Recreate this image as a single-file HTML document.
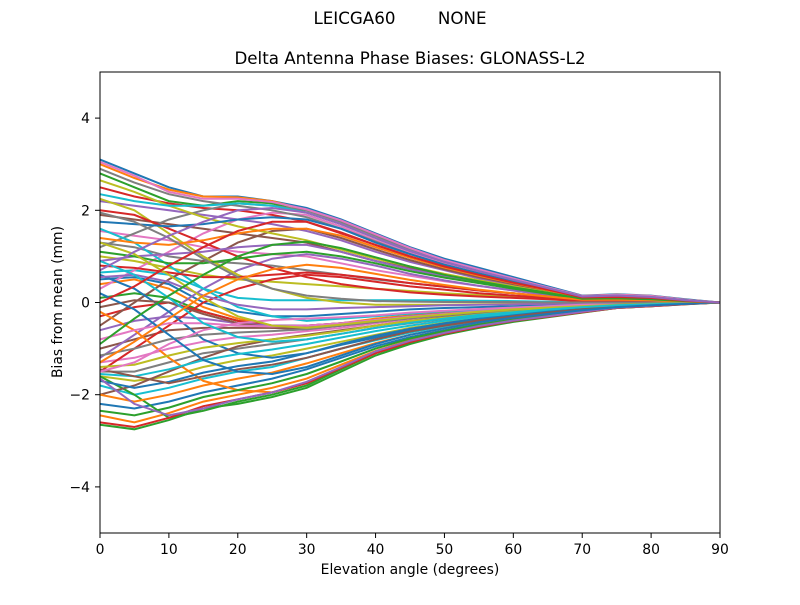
<!DOCTYPE html>
<html><head><meta charset="utf-8"><style>
body{margin:0;background:#fff;}
svg text{font-family:"DejaVu Sans","Liberation Sans",sans-serif;fill:#000;}
</style></head><body>
<svg id="chart" width="800" height="600">
<rect width="800" height="600" fill="#fff"/>
<text x="400" y="24" font-size="16.7" text-anchor="middle" xml:space="preserve">LEICGA60        NONE</text>
<text x="410" y="64" font-size="16.7" text-anchor="middle">Delta Antenna Phase Biases: GLONASS-L2</text>
<g id="lines"></g>
<rect x="100" y="72" width="620" height="461" fill="none" stroke="#000" stroke-width="1"/>
<g id="axes"></g>
<text x="410" y="574" font-size="13.9" text-anchor="middle">Elevation angle (degrees)</text>
<text transform="translate(62,302) rotate(-90)" font-size="13.9" text-anchor="middle">Bias from mean (mm)</text>
</svg>
<script>
const elevations=[0,5,10,15,20,25,30,35,40,45,50,55,60,65,70,75,80,85,90];
const xTicks=[0,10,20,30,40,50,60,70,80,90];
const yTicks=[-4,-2,0,2,4];
const yTickLabels=["\u22124","\u22122","0","2","4"];
const series=[
[3.1,2.8,2.5,2.3,2.3,2.2,2.05,1.8,1.5,1.2,0.95,0.75,0.55,0.35,0.15,0.18,0.15,0.07,0],
[3.0,2.7,2.45,2.3,2.28,2.2,2.0,1.75,1.45,1.15,0.9,0.7,0.5,0.32,0.14,0.17,0.14,0.06,0],
[2.8,2.5,2.2,2.1,2.2,2.15,1.95,1.7,1.4,1.1,0.85,0.65,0.48,0.3,0.12,0.15,0.12,0.05,0],
[2.5,2.3,2.15,2.05,2.0,1.9,1.75,1.5,1.25,1.0,0.78,0.6,0.42,0.27,0.1,0.12,0.1,0.04,0],
[2.2,2.1,2.0,1.9,1.8,1.7,1.55,1.35,1.1,0.88,0.7,0.52,0.38,0.24,0.08,0.1,0.08,0.03,0],
[1.9,1.8,1.7,1.6,1.5,1.4,1.3,1.1,0.9,0.75,0.6,0.45,0.32,0.2,0.06,0.08,0.06,0.02,0],
[1.55,1.45,1.35,1.2,1.1,1.05,1.0,0.85,0.7,0.58,0.46,0.36,0.26,0.16,0.05,0.06,0.05,0.02,0],
[1.3,1.2,1.0,0.9,0.85,0.8,0.7,0.6,0.5,0.42,0.34,0.26,0.2,0.12,0.04,0.05,0.04,0.01,0],
[1.0,0.9,0.75,0.6,0.5,0.45,0.4,0.35,0.3,0.25,0.2,0.16,0.12,0.08,0.02,0.03,0.02,0.01,0],
[0.65,0.7,0.6,0.3,0.1,0.05,0.05,0.05,0.05,0.05,0.05,0.04,0.03,0.02,0,0.01,0.01,0,0],
[0.5,0.55,0.4,0.0,-0.2,-0.3,-0.3,-0.25,-0.2,-0.15,-0.12,-0.1,-0.08,-0.06,-0.04,-0.02,-0.02,-0.01,0],
[0.4,0.5,0.3,-0.1,-0.35,-0.5,-0.55,-0.45,-0.35,-0.28,-0.22,-0.18,-0.14,-0.1,-0.07,-0.04,-0.03,-0.01,0],
[0.1,0.2,0.1,-0.2,-0.4,-0.5,-0.55,-0.5,-0.4,-0.32,-0.26,-0.2,-0.15,-0.11,-0.08,-0.05,-0.03,-0.01,0],
[-0.3,-0.1,0.0,-0.2,-0.4,-0.5,-0.5,-0.45,-0.38,-0.3,-0.24,-0.18,-0.14,-0.1,-0.07,-0.04,-0.03,-0.01,0],
[-0.6,-0.4,-0.3,-0.35,-0.45,-0.5,-0.5,-0.45,-0.38,-0.3,-0.24,-0.18,-0.14,-0.1,-0.07,-0.04,-0.03,-0.01,0],
[-1.0,-0.8,-0.6,-0.55,-0.55,-0.55,-0.5,-0.45,-0.4,-0.32,-0.26,-0.2,-0.15,-0.11,-0.08,-0.05,-0.03,-0.01,0],
[-1.3,-1.2,-1.0,-0.85,-0.75,-0.7,-0.62,-0.55,-0.45,-0.36,-0.3,-0.23,-0.18,-0.13,-0.09,-0.06,-0.04,-0.02,0],
[-1.5,-1.5,-1.3,-1.1,-1.0,-0.9,-0.8,-0.68,-0.55,-0.45,-0.36,-0.28,-0.21,-0.15,-0.1,-0.07,-0.05,-0.02,0],
[-1.6,-1.7,-1.6,-1.4,-1.25,-1.15,-1.0,-0.85,-0.7,-0.55,-0.44,-0.34,-0.26,-0.19,-0.13,-0.08,-0.05,-0.02,0],
[-1.8,-2.0,-1.85,-1.65,-1.5,-1.4,-1.2,-1.0,-0.82,-0.65,-0.52,-0.4,-0.3,-0.22,-0.15,-0.09,-0.06,-0.03,0],
[-2.2,-2.3,-2.15,-1.95,-1.8,-1.65,-1.45,-1.2,-0.95,-0.75,-0.6,-0.46,-0.35,-0.26,-0.18,-0.1,-0.07,-0.03,0],
[-2.45,-2.6,-2.4,-2.15,-2.0,-1.85,-1.65,-1.35,-1.05,-0.82,-0.65,-0.5,-0.38,-0.29,-0.2,-0.11,-0.07,-0.03,0],
[-2.65,-2.75,-2.55,-2.3,-2.2,-2.05,-1.85,-1.5,-1.15,-0.9,-0.7,-0.55,-0.42,-0.32,-0.22,-0.12,-0.08,-0.04,0],
[-1.5,-1.0,-0.5,0.0,0.3,0.5,0.6,0.55,0.45,0.35,0.28,0.2,0.15,0.1,0.05,0.05,0.04,0.02,0],
[-1.2,-0.7,-0.2,0.3,0.7,0.95,1.05,0.95,0.8,0.62,0.48,0.36,0.26,0.17,0.07,0.08,0.06,0.02,0],
[-0.5,0.0,0.5,0.9,1.3,1.55,1.6,1.4,1.15,0.92,0.72,0.55,0.4,0.26,0.1,0.11,0.09,0.04,0],
[0.3,0.7,1.1,1.5,1.8,1.95,1.9,1.65,1.35,1.08,0.85,0.65,0.47,0.3,0.12,0.14,0.11,0.05,0],
[1.2,1.5,1.8,2.0,2.15,2.1,2.0,1.75,1.45,1.15,0.9,0.7,0.5,0.32,0.13,0.16,0.13,0.06,0],
[2.25,2.0,1.5,1.0,0.6,0.3,0.1,0.0,-0.05,-0.05,-0.05,-0.04,-0.03,-0.02,-0.02,-0.01,-0.01,0,0],
[1.6,1.3,0.8,0.3,-0.1,-0.3,-0.4,-0.35,-0.3,-0.24,-0.19,-0.15,-0.11,-0.08,-0.06,-0.03,-0.02,-0.01,0],
[0.6,0.3,-0.2,-0.8,-1.1,-1.2,-1.1,-0.9,-0.72,-0.57,-0.45,-0.35,-0.27,-0.2,-0.14,-0.08,-0.05,-0.02,0],
[-0.2,-0.6,-1.2,-1.7,-1.9,-1.95,-1.75,-1.45,-1.1,-0.85,-0.67,-0.52,-0.4,-0.3,-0.21,-0.11,-0.07,-0.03,0],
[-1.6,-2.0,-2.5,-2.35,-2.15,-2.0,-1.8,-1.45,-1.1,-0.87,-0.68,-0.53,-0.41,-0.31,-0.21,-0.12,-0.08,-0.03,0],
[2.0,1.9,1.6,1.3,1.0,0.75,0.55,0.4,0.3,0.22,0.17,0.13,0.1,0.07,0.03,0.03,0.02,0.01,0],
[0.9,1.0,1.05,1.1,1.2,1.25,1.25,1.1,0.9,0.72,0.57,0.44,0.32,0.21,0.08,0.09,0.07,0.03,0],
[-2.0,-1.8,-1.5,-1.2,-0.95,-0.8,-0.7,-0.6,-0.5,-0.4,-0.32,-0.25,-0.19,-0.14,-0.1,-0.06,-0.04,-0.02,0],
[3.05,2.75,2.4,2.25,2.25,2.18,2.02,1.78,1.48,1.18,0.92,0.72,0.52,0.33,0.14,0.17,0.14,0.06,0],
[2.9,2.6,2.35,2.2,2.1,2.0,1.85,1.6,1.32,1.05,0.82,0.63,0.45,0.29,0.11,0.13,0.11,0.05,0],
[2.65,2.4,2.1,1.85,1.65,1.5,1.35,1.15,0.95,0.78,0.62,0.48,0.35,0.22,0.07,0.09,0.07,0.03,0],
[2.35,2.2,2.1,2.1,2.15,2.1,1.95,1.7,1.4,1.12,0.88,0.68,0.49,0.31,0.13,0.15,0.12,0.05,0],
[1.75,1.7,1.65,1.7,1.8,1.85,1.8,1.6,1.3,1.05,0.82,0.63,0.45,0.29,0.11,0.13,0.11,0.05,0],
[1.4,1.3,1.25,1.35,1.5,1.6,1.6,1.45,1.2,0.97,0.76,0.58,0.42,0.27,0.1,0.12,0.1,0.04,0],
[1.1,1.0,0.85,0.85,0.95,1.05,1.1,1.0,0.85,0.68,0.54,0.42,0.3,0.19,0.07,0.08,0.06,0.03,0],
[0.8,0.75,0.65,0.55,0.55,0.6,0.65,0.6,0.52,0.42,0.34,0.26,0.2,0.13,0.05,0.05,0.04,0.02,0],
[0.55,0.6,0.45,0.15,-0.05,-0.15,-0.15,-0.12,-0.1,-0.08,-0.06,-0.05,-0.04,-0.03,-0.02,-0.01,-0.01,0,0],
[-0.1,0.05,0.0,-0.25,-0.45,-0.55,-0.58,-0.5,-0.42,-0.34,-0.27,-0.21,-0.16,-0.12,-0.08,-0.05,-0.03,-0.01,0],
[-0.8,-0.6,-0.45,-0.45,-0.5,-0.52,-0.5,-0.45,-0.38,-0.31,-0.25,-0.19,-0.15,-0.11,-0.07,-0.04,-0.03,-0.01,0],
[-1.15,-1.0,-0.8,-0.7,-0.65,-0.62,-0.58,-0.5,-0.42,-0.34,-0.28,-0.21,-0.16,-0.12,-0.08,-0.05,-0.03,-0.01,0],
[-1.4,-1.35,-1.15,-0.98,-0.88,-0.8,-0.72,-0.62,-0.5,-0.4,-0.33,-0.26,-0.2,-0.14,-0.1,-0.06,-0.04,-0.02,0],
[-1.55,-1.6,-1.45,-1.25,-1.12,-1.02,-0.9,-0.76,-0.62,-0.5,-0.4,-0.31,-0.24,-0.17,-0.12,-0.07,-0.05,-0.02,0],
[-1.7,-1.85,-1.72,-1.52,-1.38,-1.28,-1.1,-0.92,-0.76,-0.6,-0.48,-0.37,-0.28,-0.2,-0.14,-0.08,-0.06,-0.03,0],
[-2.0,-2.15,-2.0,-1.8,-1.65,-1.52,-1.32,-1.1,-0.88,-0.7,-0.56,-0.43,-0.33,-0.24,-0.16,-0.1,-0.07,-0.03,0],
[-2.35,-2.45,-2.28,-2.05,-1.9,-1.75,-1.55,-1.28,-1.0,-0.78,-0.62,-0.48,-0.37,-0.27,-0.19,-0.1,-0.07,-0.03,0],
[-2.6,-2.7,-2.5,-2.25,-2.1,-1.95,-1.75,-1.42,-1.1,-0.86,-0.68,-0.53,-0.4,-0.31,-0.21,-0.12,-0.08,-0.04,0],
[-1.65,-2.2,-2.45,-2.3,-2.1,-1.95,-1.72,-1.4,-1.06,-0.83,-0.66,-0.51,-0.39,-0.3,-0.2,-0.11,-0.07,-0.03,0],
[-1.45,-1.6,-1.75,-1.6,-1.45,-1.35,-1.2,-1.0,-0.8,-0.63,-0.5,-0.39,-0.3,-0.22,-0.15,-0.09,-0.06,-0.03,0],
[-1.5,-1.3,-0.9,-0.6,-0.45,-0.38,-0.35,-0.32,-0.28,-0.22,-0.18,-0.14,-0.11,-0.08,-0.05,-0.03,-0.02,-0.01,0],
[1.95,1.75,1.4,0.95,0.55,0.3,0.15,0.08,0.03,0.02,0.01,0.01,0.01,0,0,0,0,0,0],
[1.3,1.05,0.6,0.1,-0.3,-0.5,-0.55,-0.48,-0.4,-0.32,-0.26,-0.2,-0.15,-0.11,-0.08,-0.05,-0.03,-0.01,0],
[0.9,0.6,0.1,-0.45,-0.75,-0.85,-0.8,-0.68,-0.55,-0.44,-0.35,-0.27,-0.21,-0.15,-0.1,-0.06,-0.04,-0.02,0],
[0.2,-0.15,-0.7,-1.25,-1.5,-1.55,-1.4,-1.15,-0.9,-0.7,-0.56,-0.43,-0.33,-0.25,-0.17,-0.1,-0.06,-0.03,0],
[-1.3,-0.85,-0.35,0.15,0.5,0.72,0.82,0.75,0.62,0.49,0.38,0.28,0.2,0.13,0.06,0.06,0.05,0.02,0],
[-0.9,-0.35,0.15,0.6,1.0,1.25,1.32,1.18,0.98,0.78,0.6,0.46,0.33,0.21,0.08,0.09,0.07,0.03,0],
[0.0,0.35,0.8,1.2,1.55,1.75,1.75,1.52,1.25,1.0,0.78,0.6,0.43,0.28,0.11,0.12,0.1,0.04,0],
[0.7,1.1,1.45,1.75,2.0,2.05,1.95,1.7,1.4,1.12,0.88,0.68,0.49,0.31,0.13,0.15,0.12,0.05,0]
];
const colors=["#1f77b4","#ff7f0e","#2ca02c","#d62728","#9467bd","#8c564b","#e377c2","#7f7f7f","#bcbd22","#17becf"];
const NS="http://www.w3.org/2000/svg";
const xs=v=>100+v/90*620;
const ys=v=>302.5-v/10*461;
const g=document.getElementById('lines');
series.forEach((s,i)=>{
  const p=document.createElementNS(NS,'polyline');
  p.setAttribute('points',s.map((v,j)=>xs(elevations[j]).toFixed(1)+','+ys(v).toFixed(1)).join(' '));
  p.setAttribute('fill','none');p.setAttribute('stroke',colors[i%10]);p.setAttribute('stroke-width','2');
  
  
  g.appendChild(p);
});
const ax=document.getElementById('axes');
xTicks.forEach(t=>{
  const l=document.createElementNS(NS,'line');
  l.setAttribute('x1',xs(t));l.setAttribute('x2',xs(t));l.setAttribute('y1',533);l.setAttribute('y2',538);l.setAttribute('stroke','#000');
  
  
  ax.appendChild(l);
  const tx=document.createElementNS(NS,'text');
  tx.setAttribute('x',xs(t));tx.setAttribute('y',554);tx.setAttribute('font-size','13.9');tx.setAttribute('text-anchor','middle');
  tx.textContent=t;
  
  
  ax.appendChild(tx);
});
yTicks.forEach((t,i)=>{
  const l=document.createElementNS(NS,'line');
  l.setAttribute('x1',95);l.setAttribute('x2',100);l.setAttribute('y1',ys(t));l.setAttribute('y2',ys(t));l.setAttribute('stroke','#000');
  
  
  ax.appendChild(l);
  const tx=document.createElementNS(NS,'text');
  tx.setAttribute('x',90);tx.setAttribute('y',ys(t)+5);tx.setAttribute('font-size','13.9');tx.setAttribute('text-anchor','end');
  tx.textContent=yTickLabels[i];
  
  
  ax.appendChild(tx);
});
</script>
</body></html>
